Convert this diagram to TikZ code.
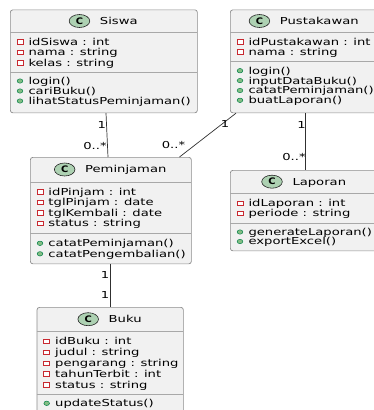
\documentclass[tikz,border=0pt]{standalone}
\usepackage{fontspec}
\usetikzlibrary{calc}
\newfontfamily\umlfont[FakeStretch=1.37]{DejaVu Sans}
\newfontfamily\umlbold[FakeStretch=1.1]{DejaVu Sans Bold}
\definecolor{boxfill}{HTML}{F1F1F1}
\definecolor{boxline}{HTML}{8C8C8C}
\definecolor{sepline}{HTML}{A8A8A8}
\definecolor{cfill}{HTML}{ADD1B2}
\definecolor{attrred}{HTML}{C82930}
\definecolor{methfill}{HTML}{84BE84}
\definecolor{methline}{HTML}{038048}
\definecolor{connline}{HTML}{303030}
\tikzset{
  cbox/.style={draw=boxline, fill=boxfill, line width=0.7pt, rounded corners=2.5pt, inner sep=0pt, anchor=north west},
  sepl/.style={draw=sepline, line width=0.7pt},
  mem/.style={font=\umlfont\fontsize{9.6}{10}\selectfont, inner sep=0pt, anchor=base west},
  ttl/.style={font=\umlfont\fontsize{9.6}{10}\selectfont, inner sep=0pt, anchor=base},
  mult/.style={font=\umlfont\fontsize{9.6}{10}\selectfont, inner sep=0pt},
  cicon/.style={draw=black!85, fill=cfill, line width=0.6pt},
  cletter/.style={font=\umlbold\fontsize{9}{10}\selectfont, inner sep=0pt},
  attricon/.style={draw=attrred, line width=0.7pt, fill=white},
  methicon/.style={draw=methline, fill=methfill, line width=0.5pt},
  conn/.style={draw=connline, line width=0.7pt},
}
% \attrrow{name}{left}{y}{text}
\newcommand\attrrow[4]{%
  \draw[attricon] (#2+10-3,#3-2.2) rectangle (#2+10+3,#3+2.2);
  \node[mem] (#1) at (#2+18.3,#3+3.4) {#4};}
\newcommand\methrow[4]{%
  \fill[methicon] (#2+10,#3) ellipse (2.8 and 2.2);
  \node[mem] (#1) at (#2+18.3,#3+3.4) {#4};}
% \umltitle{name}{center x}{y}{title}
\newcommand\umltitle[4]{%
  \node[ttl] (#1) at (#2,#3+3.4) {\hspace*{30.6pt}#4};
  \draw[cicon] ($(#1.base west)+(10.3,-3.4)$) ellipse (10.3 and 6.5);
  \node[cletter] (#1-c) at ($(#1.base west)+(10.3,-3.4)$) {C};}
\begin{document}
\begin{tikzpicture}[x=1pt,y=-1pt]
\useasboundingbox (0,0) rectangle (374,410);

% ---------- Siswa ----------
\node[cbox, minimum width=187pt, minimum height=103pt] (siswa) at (10,9.5) {};
\draw[sepl] (10,32.3) -- (197,32.3);
\draw[sepl] (10,72.5) -- (197,72.5);
\umltitle{siswa-t}{103.5}{21}{Siswa}
\attrrow{siswa-a1}{10}{42}{idSiswa : int}
\attrrow{siswa-a2}{10}{52.5}{nama : string}
\attrrow{siswa-a3}{10}{63}{kelas : string}
\methrow{siswa-m1}{10}{81}{login()}
\methrow{siswa-m2}{10}{91}{cariBuku()}
\methrow{siswa-m3}{10}{101}{lihatStatusPeminjaman()}

% ---------- Pustakawan ----------
\node[cbox, minimum width=148pt, minimum height=103pt] (pust) at (230,9.5) {};
\draw[sepl] (230,32) -- (378,32);
\draw[sepl] (230,61) -- (378,61);
\umltitle{pust-t}{304}{21}{Pustakawan}
\attrrow{pust-a1}{230}{41.7}{idPustakawan : int}
\attrrow{pust-a2}{230}{52}{nama : string}
\methrow{pust-m1}{230}{70.7}{login()}
\methrow{pust-m2}{230}{80.6}{inputDataBuku()}
\methrow{pust-m3}{230}{90.5}{catatPeminjaman()}
\methrow{pust-m4}{230}{100.3}{buatLaporan()}

% ---------- Peminjaman ----------
\node[cbox, minimum width=161pt, minimum height=106.5pt] (pem) at (30,157) {};
\draw[sepl] (30,182) -- (191,182);
\draw[sepl] (30,233.3) -- (191,233.3);
\umltitle{pem-t}{110.5}{169.5}{Peminjaman}
\attrrow{pem-a1}{30}{192}{idPinjam : int}
\attrrow{pem-a2}{30}{202.5}{tglPinjam : date}
\attrrow{pem-a3}{30}{213}{tglKembali : date}
\attrrow{pem-a4}{30}{223.5}{status : string}
\methrow{pem-m1}{30}{243.3}{catatPeminjaman()}
\methrow{pem-m2}{30}{253.8}{catatPengembalian()}

% ---------- Laporan ----------
\node[cbox, minimum width=148pt, minimum height=80.5pt] (lap) at (230,170) {};
\draw[sepl] (230,193.5) -- (378,193.5);
\draw[sepl] (230,223.3) -- (378,223.3);
\umltitle{lap-t}{304}{181.7}{Laporan}
\attrrow{lap-a1}{230}{203.3}{idLaporan : int}
\attrrow{lap-a2}{230}{213.5}{periode : string}
\methrow{lap-m1}{230}{232}{generateLaporan()}
\methrow{lap-m2}{230}{241.5}{exportExcel()}

% ---------- Buku ----------
\node[cbox, minimum width=146.3pt, minimum height=120pt] (buku) at (36.7,307) {};
\draw[sepl] (36.7,331.5) -- (183,331.5);
\draw[sepl] (36.7,394.3) -- (183,394.3);
\umltitle{buku-t}{109.85}{319.2}{Buku}
\attrrow{buku-a1}{36.7}{341.5}{idBuku : int}
\attrrow{buku-a2}{36.7}{352.3}{judul : string}
\attrrow{buku-a3}{36.7}{363.1}{pengarang : string}
\attrrow{buku-a4}{36.7}{373.9}{tahunTerbit : int}
\attrrow{buku-a5}{36.7}{384.7}{status : string}
\methrow{buku-m1}{36.7}{403.3}{updateStatus()}

% ---------- Connectors ----------
\draw[conn] ($(siswa.south west)+(96,0)$) -- ($(pem.north west)+(78,0)$);
\draw[conn] ($(pust.south west)+(6,0)$) -- ($(pem.north west)+(149.5,0)$);
\draw[conn] ($(pust.south west)+(75,0)$) -- ($(lap.north west)+(75,0)$);
\draw[conn] ($(pem.south west)+(80,0)$) -- ($(buku.north west)+(73.3,0)$);

% ---------- Multiplicities ----------
\node[mult] (m1) at (101.7,125) {1};
\node[mult] (m2) at (95,146) {0..*};
\node[mult] (m3) at (225,124) {1};
\node[mult] (m4) at (173.5,145) {0..*};
\node[mult] (m5) at (301.5,125) {1};
\node[mult] (m6) at (294,157) {0..*};
\node[mult] (m7) at (105,275) {1};
\node[mult] (m8) at (105,295) {1};
\end{tikzpicture}
\end{document}
